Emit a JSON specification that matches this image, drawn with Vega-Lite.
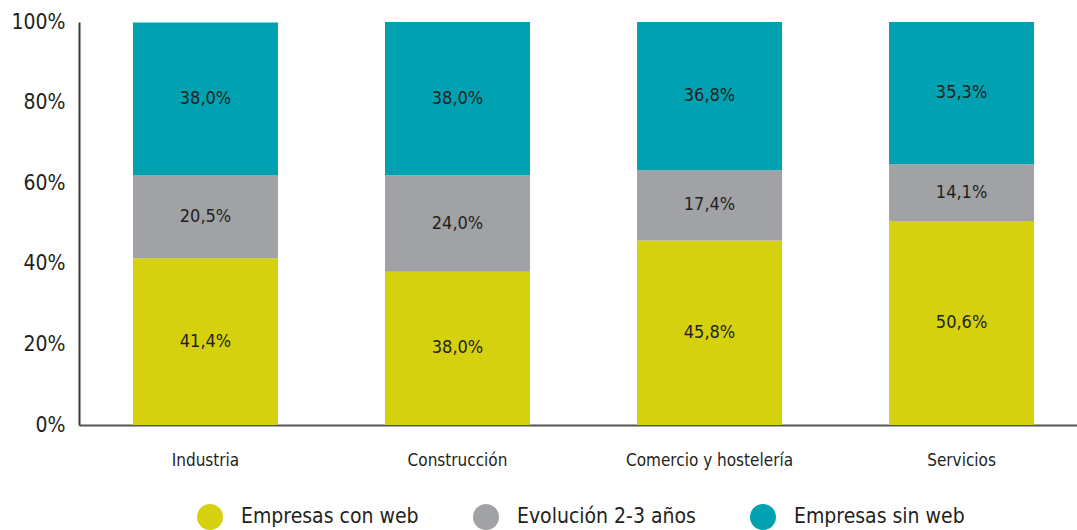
{
  "$schema": "https://vega.github.io/schema/vega-lite/v6.json",
  "width": 998,
  "height": 403,
  "autosize": {"type": "none"},
  "padding": {"left": 79, "top": 22, "right": 0, "bottom": 105},
  "background": "white",
  "config": {
    "font": "DejaVu Sans Condensed",
    "view": {"stroke": null},
    "axis": {"grid": false, "ticks": false, "labelColor": "#231f20", "domainColor": "#3a3a3a", "domainWidth": 2}
  },
  "data": {
    "values": [
      {"sector": "Industria", "serie": "Empresas con web", "orden": 1, "v": 41.4},
      {"sector": "Industria", "serie": "Evolución 2-3 años", "orden": 2, "v": 20.5},
      {"sector": "Industria", "serie": "Empresas sin web", "orden": 3, "v": 38.0},
      {"sector": "Construcción", "serie": "Empresas con web", "orden": 1, "v": 38.0},
      {"sector": "Construcción", "serie": "Evolución 2-3 años", "orden": 2, "v": 24.0},
      {"sector": "Construcción", "serie": "Empresas sin web", "orden": 3, "v": 38.0},
      {"sector": "Comercio y hostelería", "serie": "Empresas con web", "orden": 1, "v": 45.8},
      {"sector": "Comercio y hostelería", "serie": "Evolución 2-3 años", "orden": 2, "v": 17.4},
      {"sector": "Comercio y hostelería", "serie": "Empresas sin web", "orden": 3, "v": 36.8},
      {"sector": "Servicios", "serie": "Empresas con web", "orden": 1, "v": 50.6},
      {"sector": "Servicios", "serie": "Evolución 2-3 años", "orden": 2, "v": 14.1},
      {"sector": "Servicios", "serie": "Empresas sin web", "orden": 3, "v": 35.3}
    ]
  },
  "transform": [
    {"stack": "v", "groupby": ["sector"], "sort": [{"field": "orden"}], "as": ["y0", "y1"]},
    {"calculate": "(datum.y0 + datum.y1) / 2", "as": "ymid"},
    {"calculate": "replace(format(datum.v, '.1f'), '.', ',') + '%'", "as": "etiqueta"}
  ],
  "encoding": {
    "x": {
      "field": "sector",
      "type": "nominal",
      "sort": ["Industria", "Construcción", "Comercio y hostelería", "Servicios"],
      "scale": {"paddingInner": 0.4246, "paddingOuter": 0.1923, "align": 0.557},
      "axis": {"title": null, "labelAngle": 0, "labelFontSize": 17, "labelPadding": 27, "domainColor": "#555555"}
    }
  },
  "layer": [
    {
      "mark": {"type": "bar"},
      "encoding": {
        "y": {
          "field": "y0",
          "type": "quantitative",
          "scale": {"domain": [0, 100], "nice": false},
          "axis": {"title": null, "values": [0, 20, 40, 60, 80, 100], "labelExpr": "datum.value + '%'", "labelFontSize": 21, "labelPadding": 14}
        },
        "y2": {"field": "y1"},
        "color": {
          "field": "serie",
          "type": "nominal",
          "scale": {
            "domain": ["Empresas con web", "Evolución 2-3 años", "Empresas sin web"],
            "range": ["#d5d10f", "#a1a2a5", "#00a1b1"]
          },
          "legend": {
            "title": null,
            "orient": "none",
            "legendX": 118,
            "legendY": 482,
            "direction": "horizontal",
            "symbolType": "circle",
            "symbolSize": 676,
            "symbolStrokeWidth": 0,
            "labelFontSize": 21,
            "labelLimit": 0,
            "labelColor": "#231f20",
            "labelOffset": 18,
            "columnPadding": 54
          }
        }
      }
    },
    {
      "mark": {"type": "text", "fontSize": 18, "color": "#231f20"},
      "encoding": {
        "y": {"field": "ymid", "type": "quantitative"},
        "text": {"field": "etiqueta"}
      }
    }
  ]
}
